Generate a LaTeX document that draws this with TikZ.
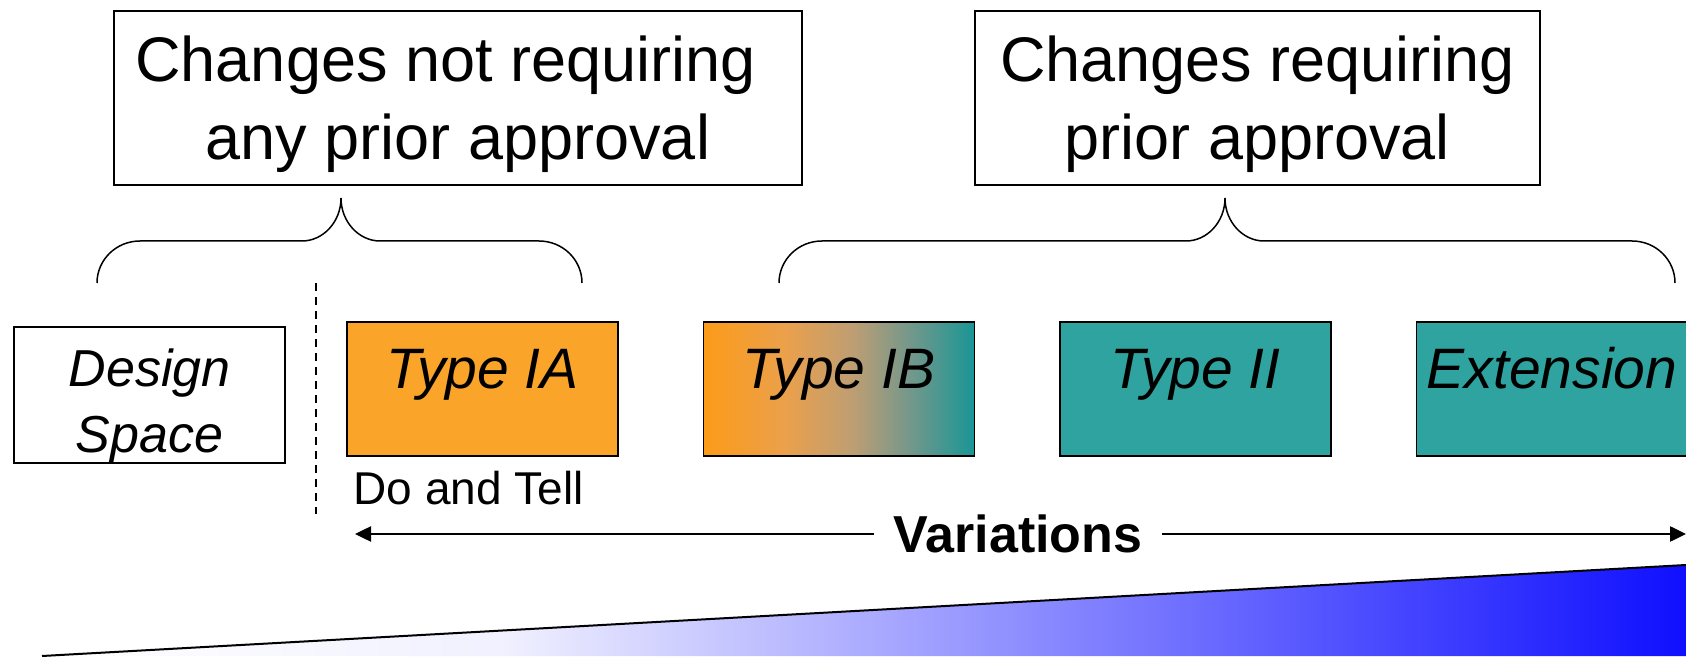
\documentclass[tikz,border=0pt]{standalone}
\usepackage{fontspec}
\setmainfont{Liberation Sans}
\usetikzlibrary{arrows.meta,positioning}
\definecolor{iaorange}{RGB}{250,164,42}
\definecolor{tealfill}{RGB}{46,163,159}
\definecolor{wedgeblue}{RGB}{15,15,255}
\colorlet{wedgepale}{white!94!wedgeblue}
\definecolor{ibone}{RGB}{252,155,25}
\definecolor{ibtwo}{RGB}{235,160,75}
\definecolor{ibthree}{RGB}{190,158,115}
\definecolor{ibfour}{RGB}{120,152,138}
\definecolor{ibfive}{RGB}{25,150,150}
\pgfdeclarehorizontalshading{wedge}{100bp}{color(0bp)=(white); color(25bp)=(white); color(39bp)=(wedgepale); color(75bp)=(wedgeblue); color(100bp)=(wedgeblue)}
\pgfdeclarehorizontalshading{ibshade}{100bp}{color(0bp)=(ibone); color(25bp)=(ibone); color(40bp)=(ibtwo); color(52.5bp)=(ibthree); color(62.5bp)=(ibfour); color(75bp)=(ibfive); color(100bp)=(ibfive)}

\begin{document}
\begin{tikzpicture}[x=1pt,y=1pt,
  topbox/.style={draw,line width=1.5pt,minimum height=174,align=center,
    font=\fontsize{63}{78}\selectfont},
  typebox/.style={draw,line width=1.5pt,minimum width=271,minimum height=134,
    inner sep=0pt,font=\fontsize{57}{64}\selectfont\itshape},
  onerow/.style={text height=42pt,text depth=42pt},
  brace/.style={line width=1.5pt},
  varrow/.style={line width=2.5pt,-{Triangle[length=16pt,width=15pt]}}]
\useasboundingbox (0,0) rectangle (1686,656);

% wedge at the bottom
\shade[shading=wedge] (42,0) -- (1686,91) -- (1686,0) -- cycle;
\draw[line width=2pt] (42,0) -- (1686,91);

% approval boxes
\node[topbox,minimum width=688] (noprior) at (458,558) {\rule{0pt}{59pt}Changes not requiring\hspace*{.4em}\\any prior approval};
\node[topbox,minimum width=565] (prior) at (1257.5,558) {\rule{0pt}{59pt}Changes requiring\\prior approval};

% braces
\draw[brace] (97,373) .. controls (97,396) and (116,415) .. (140,415) -- (302,415)
  .. controls (323,415) and (341,434) .. (341,458)
  .. controls (341,434) and (359,415) .. (380,415) -- (539,415)
  .. controls (563,415) and (582,396) .. (582,373);
\draw[brace] (779,373) .. controls (779,396) and (798,415) .. (822,415) -- (1186,415)
  .. controls (1207,415) and (1225,434) .. (1225,458)
  .. controls (1225,434) and (1243,415) .. (1264,415) -- (1632,415)
  .. controls (1656,415) and (1675,396) .. (1675,373);

% design space
\node[typebox,align=center,font=\fontsize{52}{66}\selectfont\itshape] (space) at (149.5,261) {\rule{0pt}{59pt}Design\\Space};
\draw[dashed,dash pattern=on 8pt off 6pt,line width=1.2pt] (316,373) -- (316,142);

% variation types
\node[typebox,onerow,fill=iaorange] (typeia) at (482.5,267) {Type IA};
\node[typebox,onerow,shading=ibshade,right=84 of typeia] (typeib) {Type IB};
\node[typebox,onerow,fill=tealfill,right=84 of typeib] (typeii) {Type II};
\node[typebox,onerow,fill=tealfill,right=84 of typeii] (ext) {Extension};
\node[anchor=base west,font=\fontsize{46}{54}\selectfont] (tell) at (350,151) {Do and Tell};

% variations arrow
\node[font=\fontsize{52}{60}\selectfont\bfseries,inner xsep=20pt] (var) at (1018,122) {Variations};
\coordinate (leftend) at (355,122);
\coordinate (rightend) at (1686,122);
\draw[varrow] (var) -- (leftend);
\draw[varrow] (var) -- (rightend);

\end{tikzpicture}
\end{document}
